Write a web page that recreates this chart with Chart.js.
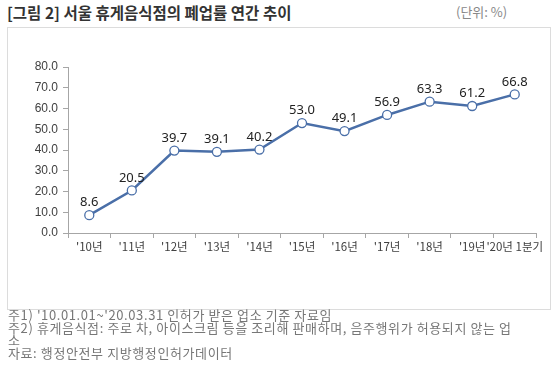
<!DOCTYPE html>
<html>
<head>
  <title>서울 휴게음식점의 폐업률 연간 추이</title>
  <script src="https://cdn.jsdelivr.net/npm/chart.js@4.4.1/dist/chart.umd.min.js"></script>
  <style>
    body { margin: 0; background: #fff; font-family: 'Noto Sans CJK KR', sans-serif; }
    .page { position: relative; width: 559px; height: 371px; overflow: hidden; }
    .title { position: absolute; left: 7px; top: 1px; font-size: 15.5px; font-weight: bold; color: #333; line-height: 22px; white-space: nowrap; }
    .unit { position: absolute; left: 456px; top: 3px; font-size: 13px; color: #888; line-height: 18px; }
    .box { position: absolute; left: 7px; top: 27px; width: 542px; height: 281px; border: 1px solid #dcdcdc; }
    .box canvas { position: absolute; left: 0; top: 0; }
    .notes { position: absolute; left: 8px; top: 309px; font-size: 13px; letter-spacing: 0.6px; line-height: 12.5px; color: #777; white-space: nowrap; }
  </style>
</head>
<body>
  <div class="page">
    <div class="title">[그림 2] 서울 휴게음식점의 폐업률 연간 추이</div>
    <div class="unit">(단위: %)</div>
    <div class="box">
      <canvas id="closeChart" width="542" height="281"></canvas>
    </div>
    <div class="notes">
      주1) '10.01.01~'20.03.31 인허가 받은 업소 기준 자료임<br>
      주2) 휴게음식점: 주로 차, 아이스크림 등을 조리해 판매하며, 음주행위가 허용되지 않는 업<br>
      소<br>
      자료: 행정안전부 지방행정인허가데이터
    </div>
  </div>

  <script>
    // 연도별 폐업률 (%)
    const years = ["'10년", "'11년", "'12년", "'13년", "'14년", "'15년", "'16년", "'17년", "'18년", "'19년", "'20년 1분기"];
    const closeRate = [8.6, 20.5, 39.7, 39.1, 40.2, 53.0, 49.1, 56.9, 63.3, 61.2, 66.8];
    const yTicks = [0, 10, 20, 30, 40, 50, 60, 70, 80];

    const lineColor = '#4a6fa8';

    // draw value labels above each point
    const valueLabels = {
      id: 'valueLabels',
      afterDatasetsDraw(chart) {
        const ctx = chart.ctx;
        const meta = chart.getDatasetMeta(0);
        ctx.save();
        ctx.font = "13px 'Noto Sans', sans-serif";
        ctx.fillStyle = '#222';
        ctx.textAlign = 'center';
        ctx.textBaseline = 'bottom';
        meta.data.forEach((pt, i) => {
          ctx.fillText(closeRate[i].toFixed(1), pt.x, pt.y - 6);
        });
        ctx.restore();
      }
    };

    const ctx = document.getElementById('closeChart').getContext('2d');
    new Chart(ctx, {
      type: 'line',
      data: {
        labels: years,
        datasets: [{
          data: closeRate,
          borderColor: lineColor,
          borderWidth: 2.5,
          pointRadius: 4.5,
          pointBorderWidth: 1.3,
          pointBackgroundColor: '#fff',
          pointBorderColor: lineColor,
          tension: 0,
          fill: false,
        }],
      },
      options: {
        responsive: false,
        animation: false,
        layout: { padding: { top: 39, right: 14, bottom: 0, left: 0 } },
        plugins: { legend: { display: false }, tooltip: { enabled: false } },
        scales: {
          x: {
            offset: true,
            grid: { offset: true, drawOnChartArea: false, drawTicks: true, tickLength: 5, color: '#a6a6a6' },
            border: { display: true, color: '#a6a6a6', width: 1 },
            ticks: {
              autoSkip: false, maxRotation: 0, minRotation: 0, padding: 2,
              color: '#404040',
              font: { family: "'Noto Sans CJK KR', sans-serif", size: 11.5 },
            },
            afterFit(scale) { scale.height = 76; },
          },
          y: {
            min: 0,
            max: 80,
            afterBuildTicks(scale) { scale.ticks = yTicks.map(v => ({ value: v })); },
            grid: { drawOnChartArea: false, drawTicks: true, tickLength: 5, color: '#a6a6a6' },
            border: { display: true, color: '#a6a6a6', width: 1 },
            ticks: {
              padding: 5,
              color: '#404040',
              font: { family: "'Liberation Sans', sans-serif", size: 12 },
              callback: v => Number(v).toFixed(1),
            },
            afterFit(scale) { scale.width = 60; },
          },
        },
      },
      plugins: [valueLabels],
    });
  </script>
</body>
</html>
